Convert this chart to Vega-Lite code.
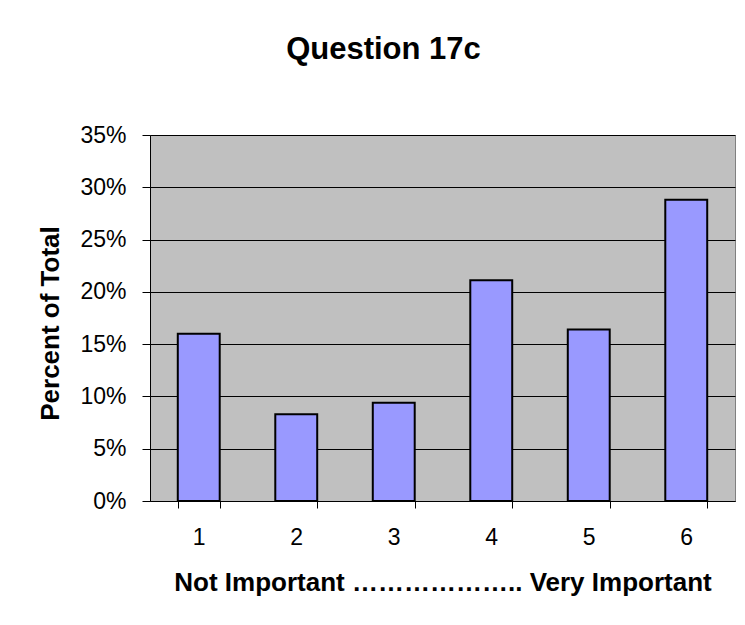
{
  "$schema": "https://vega.github.io/schema/vega-lite/v6.json",
  "width": 585,
  "height": 366,
  "autosize": "none",
  "padding": {"left": 150, "top": 135, "right": 10, "bottom": 124},
  "background": "white",
  "title": {
    "text": "Question 17c",
    "font": "Liberation Sans",
    "fontSize": 31,
    "fontWeight": "bold",
    "color": "black",
    "anchor": "middle",
    "dx": -59,
    "offset": 58
  },
  "data": {
    "values": [
      {"rating": "1", "pct": 0.160},
      {"rating": "2", "pct": 0.083},
      {"rating": "3", "pct": 0.094},
      {"rating": "4", "pct": 0.211},
      {"rating": "5", "pct": 0.164},
      {"rating": "6", "pct": 0.288}
    ]
  },
  "mark": {"type": "bar", "fill": "#9999FF", "stroke": "black", "strokeWidth": 2},
  "encoding": {
    "x": {
      "field": "rating",
      "type": "ordinal",
      "scale": {"paddingInner": 0.57, "paddingOuter": 0.285},
      "axis": {
        "title": "Not Important ……………….. Very Important",
        "titleFont": "Liberation Sans",
        "titleFontSize": 26,
        "titleFontWeight": "bold",
        "titleColor": "black",
        "titleX": 292.5,
        "titleY": 81,
        "titleBaseline": "middle",
        "labelAngle": 0,
        "labelFont": "Liberation Sans",
        "labelFontSize": 23,
        "labelColor": "black",
        "labelPadding": 18,
        "tickBand": "extent",
        "tickSize": 7,
        "tickColor": "black",
        "domainColor": "black",
        "grid": false
      }
    },
    "y": {
      "field": "pct",
      "type": "quantitative",
      "scale": {"domain": [0, 0.35], "nice": false},
      "axis": {
        "values": [0, 0.05, 0.1, 0.15, 0.2, 0.25, 0.3, 0.35],
        "format": ".0%",
        "title": "Percent of Total",
        "titleFont": "Liberation Sans",
        "titleFontSize": 26,
        "titleFontWeight": "bold",
        "titleColor": "black",
        "titleX": -100,
        "titleY": 188,
        "titleAngle": -90,
        "titleBaseline": "middle",
        "titleAlign": "center",
        "labelFont": "Liberation Sans",
        "labelFontSize": 23,
        "labelColor": "black",
        "labelPadding": 16,
        "tickSize": 8,
        "tickColor": "black",
        "domainColor": "black",
        "grid": true,
        "gridColor": "black",
        "gridWidth": 1
      }
    }
  },
  "config": {
    "view": {"fill": "#C0C0C0", "stroke": "#808080", "strokeWidth": 1}
  }
}
